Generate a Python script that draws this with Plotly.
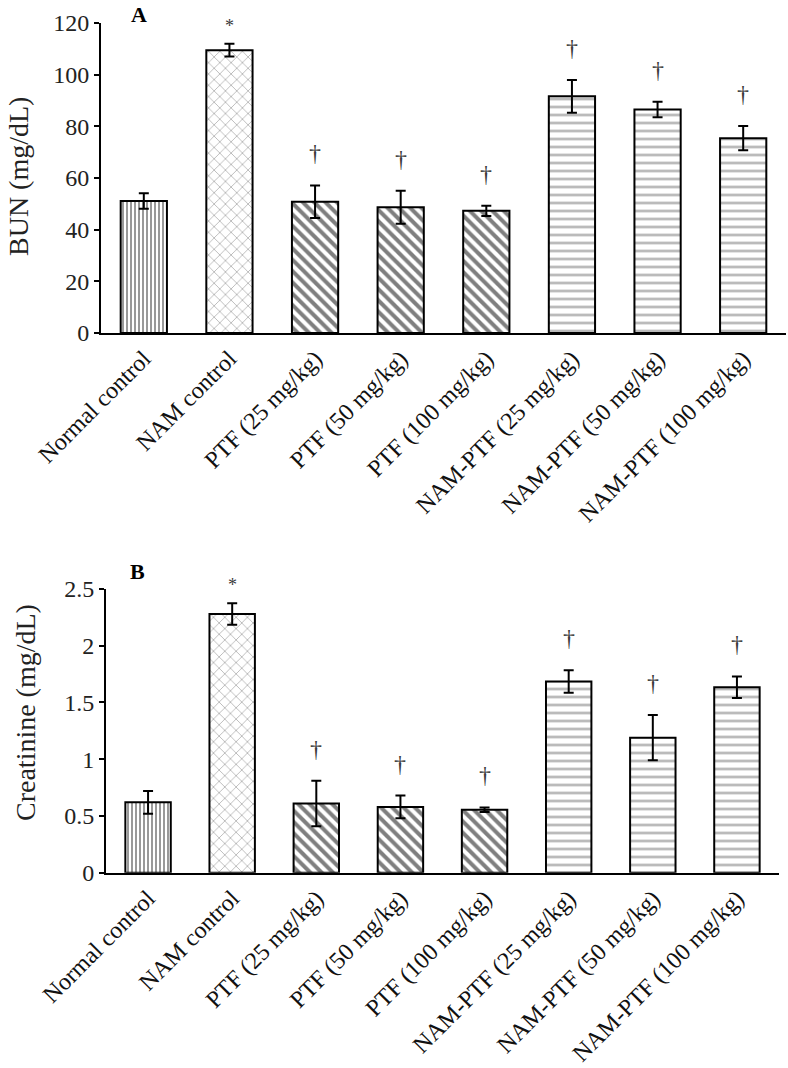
import plotly.graph_objects as go

categories = ["Normal control", "NAM control", "PTF (25 mg/kg)", "PTF (50 mg/kg)",
              "PTF (100 mg/kg)", "NAM-PTF (25 mg/kg)", "NAM-PTF (50 mg/kg)", "NAM-PTF (100 mg/kg)"]
bun_mean = [51.1, 109.5, 50.8, 48.7, 47.3, 91.6, 86.5, 75.4]
bun_sem = [3.0, 2.5, 6.3, 6.4, 2.0, 6.3, 3.0, 4.7]
crea_mean = [0.62, 2.28, 0.61, 0.58, 0.555, 1.685, 1.19, 1.635]
crea_sem = [0.10, 0.095, 0.20, 0.10, 0.02, 0.10, 0.20, 0.095]
marks = ["", "*", "†", "†", "†", "†", "†", "†"]
y1_ticks = [0, 20, 40, 60, 80, 100, 120]
y2_ticks = [0, 0.5, 1, 1.5, 2, 2.5]
y2_ticklabels = ["0", "0.5", "1", "1.5", "2", "2.5"]

FONT = "Liberation Serif"

W, H = 788, 1068


def fx(x):
    return x / W


def fy(y):
    return 1 - y / H


# pattern per bar
shapes = ["|", "x", "\\", "\\", "\\", "-", "-", "-"]
fgcolors = ["#000000", "#666666", "#000000", "#000000", "#000000", "#777777", "#777777", "#777777"]
sizes = [4, 8, 8, 8, 8, 8, 8, 8]
solid = [0.4, 0.2, 0.5, 0.5, 0.5, 0.35, 0.35, 0.35]

fig = go.Figure()


def add_panel(means, sems, xa, ya):
    fig.add_trace(go.Bar(
        x=categories, y=means, xaxis=xa, yaxis=ya, width=0.54,
        marker=dict(color="white", line=dict(color="black", width=2),
                    pattern=dict(shape=shapes, fgcolor=fgcolors, bgcolor="white",
                                 size=sizes, solidity=solid, fillmode="overlay")),
        error_y=dict(type="data", array=sems, color="black", thickness=2, width=5),
        showlegend=False, hoverinfo="skip"))


add_panel(bun_mean, bun_sem, "x", "y")
add_panel(crea_mean, crea_sem, "x2", "y2")

annotations = []
for i, m in enumerate(marks):
    if not m:
        continue
    for means, sems, xa, ya in [(bun_mean, bun_sem, "x", "y"), (crea_mean, crea_sem, "x2", "y2")]:
        annotations.append(dict(
            x=categories[i], y=means[i] + sems[i], xref=xa, yref=ya,
            text=m, showarrow=False, yanchor="bottom", xanchor="center",
            yshift=(6 if m == "*" else 17),
            font=dict(family=FONT, size=(18 if m == "*" else 24), color="#3a3a3a")))

annotations.append(dict(x=fx(139), y=fy(15), xref="paper", yref="paper", text="<b>A</b>",
                        xanchor="center", yanchor="middle",
                        showarrow=False, font=dict(family=FONT, size=22, color="black")))
annotations.append(dict(x=fx(137), y=fy(571), xref="paper", yref="paper", text="<b>B</b>",
                        xanchor="center", yanchor="middle",
                        showarrow=False, font=dict(family=FONT, size=22, color="black")))
annotations.append(dict(x=fx(18), y=fy(177), xref="paper", yref="paper", text="BUN (mg/dL)",
                        textangle=-90, showarrow=False, xanchor="center", yanchor="middle",
                        font=dict(family=FONT, size=28, color="#222222")))
annotations.append(dict(x=fx(25), y=fy(713), xref="paper", yref="paper",
                        text="Creatinine (mg/dL)", textangle=-90, showarrow=False,
                        xanchor="center", yanchor="middle",
                        font=dict(family=FONT, size=28, color="#222222")))

xcommon = dict(type="category", showline=True, linecolor="black", linewidth=2,
               ticks="", tickangle=-45, tickfont=dict(family=FONT, size=24, color="#111111"),
               showgrid=False, zeroline=False, automargin=False)
ycommon = dict(showline=True, linecolor="black", linewidth=2, ticks="outside",
               ticklen=5, tickwidth=1.5, tickcolor="black", showgrid=False, zeroline=False,
               tickfont=dict(family=FONT, size=24, color="#222222"), automargin=False)

fig.update_layout(
    width=W, height=H, margin=dict(l=0, r=0, t=0, b=0, autoexpand=False),
    plot_bgcolor="white", paper_bgcolor="white",
    xaxis=dict(**xcommon, domain=[fx(101), fx(786)], anchor="y"),
    yaxis=dict(**ycommon, domain=[fy(333), fy(23)], anchor="x", range=[0, 120],
               tickvals=y1_ticks),
    xaxis2=dict(**xcommon, domain=[fx(106), fx(779)], anchor="y2"),
    yaxis2=dict(**ycommon, domain=[fy(872.7), fy(589)], anchor="x2", range=[0, 2.5],
                tickvals=y2_ticks, ticktext=y2_ticklabels),
    annotations=annotations,
)

fig.write_html("out.html", config={"displayModeBar": False},
               post_script="document.body.style.margin='0';")
